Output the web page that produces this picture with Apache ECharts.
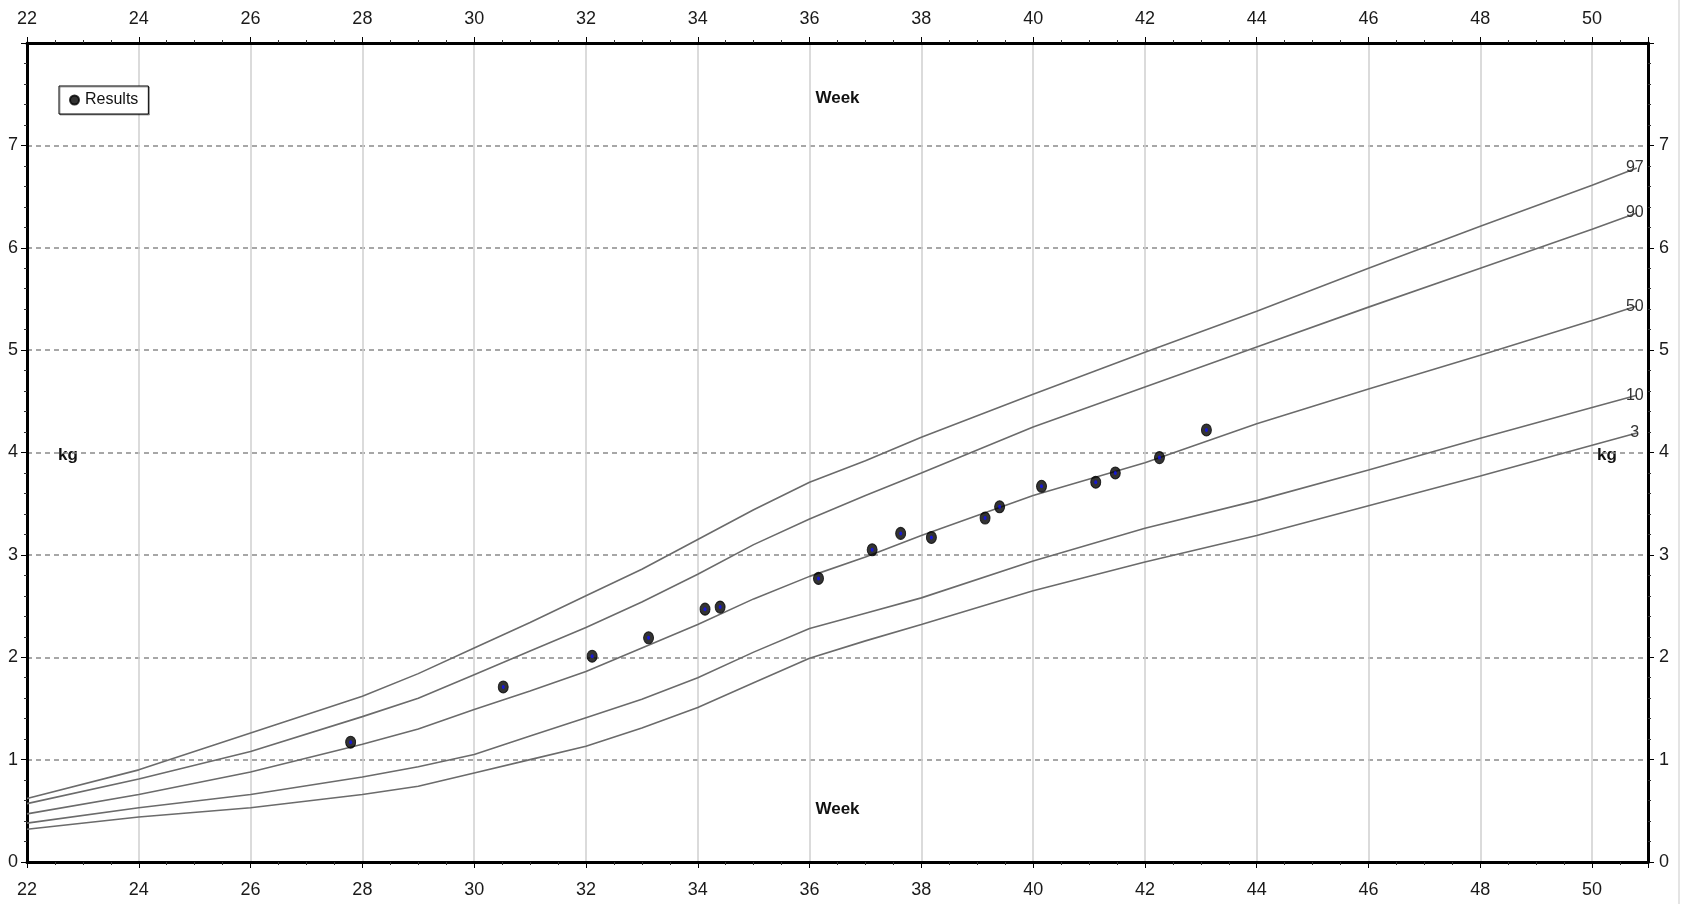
<!DOCTYPE html>
<html>
<head>
<meta charset="utf-8">
<script src="https://cdn.jsdelivr.net/npm/echarts@6/dist/echarts.min.js"></script>
<style>
html,body{margin:0;padding:0;background:#fff;}
#c{width:1687px;height:904px;}
</style>
</head>
<body>
<div id="c"></div>
<script>
// ---- data ----
const curveWeeks = [22, 24, 26, 28, 29, 30, 31, 32, 33, 34, 35, 36, 37, 38, 40, 42, 44, 46, 48, 50, 50.8];
const p97 = [0.62, 0.90, 1.26, 1.62, 1.84, 2.09, 2.34, 2.60, 2.86, 3.15, 3.44, 3.71, 3.92, 4.15, 4.57, 4.98, 5.38, 5.80, 6.21, 6.61, 6.78];
const p90 = [0.57, 0.81, 1.08, 1.42, 1.60, 1.83, 2.06, 2.29, 2.54, 2.81, 3.10, 3.35, 3.58, 3.80, 4.25, 4.64, 5.03, 5.42, 5.80, 6.18, 6.34];
const p50 = [0.47, 0.66, 0.88, 1.15, 1.30, 1.49, 1.67, 1.86, 2.09, 2.32, 2.57, 2.79, 2.98, 3.19, 3.58, 3.90, 4.28, 4.62, 4.95, 5.29, 5.43];
const p10 = [0.38, 0.53, 0.66, 0.83, 0.93, 1.05, 1.23, 1.41, 1.59, 1.80, 2.05, 2.28, 2.43, 2.58, 2.94, 3.26, 3.53, 3.83, 4.14, 4.44, 4.56];
const p3  = [0.32, 0.44, 0.53, 0.66, 0.74, 0.87, 1.00, 1.13, 1.31, 1.51, 1.75, 1.99, 2.16, 2.32, 2.65, 2.93, 3.19, 3.48, 3.77, 4.07, 4.19];
const percentileNames = ['97', '90', '50', '10', '3'];

const resultWeeks = [27.79, 30.52, 32.11, 33.12, 34.13, 34.40, 36.16, 37.12, 37.63, 38.18, 39.14, 39.40, 40.15, 41.12, 41.47, 42.26, 43.10];
const resultKg    = [1.17, 1.71, 2.01, 2.19, 2.47, 2.49, 2.77, 3.05, 3.21, 3.17, 3.36, 3.47, 3.67, 3.71, 3.80, 3.95, 4.22];

const xTickLabels = [22, 24, 26, 28, 30, 32, 34, 36, 38, 40, 42, 44, 46, 48, 50];
const yTickLabels = [0, 1, 2, 3, 4, 5, 6, 7];
const xAxisName = 'Week';
const yAxisName = 'kg';
const legendName = 'Results';

// ---- chart ----
const W = 1687, H = 904;
const G = {left: 27, top: 43, right: 39, bottom: 42};
const FONT = "'Liberation Sans',Arial,sans-serif";

function xAxisDef(pos, split) {
  return {
    type: 'value', position: pos, min: 22, max: 51, interval: 2,
    axisLine: {show: true, onZero: false, lineStyle: {color: '#000', width: 3}},
    axisTick: {show: true, length: 6, lineStyle: {color: '#000', width: 1}},
    minorTick: {show: true, splitNumber: 4, length: 3, lineStyle: {color: '#333', width: 1}},
    axisLabel: {
      show: true, margin: pos === 'top' ? 15 : 19, fontSize: 18, color: '#1a1a1a', fontFamily: FONT,
      showMaxLabel: false,
      formatter: v => (xTickLabels.indexOf(v) >= 0 ? String(v) : '')
    },
    splitLine: {show: split, lineStyle: {color: '#cfcfcf', width: 1.5}},
    minorSplitLine: {show: false}
  };
}
function yAxisDef(pos, split) {
  return {
    type: 'value', position: pos, min: 0, max: 8, interval: 1,
    axisLine: {show: true, onZero: false, lineStyle: {color: '#000', width: 3}},
    axisTick: {show: true, length: 6, lineStyle: {color: '#000', width: 1}},
    minorTick: {show: true, splitNumber: 5, length: 3, lineStyle: {color: '#333', width: 1}},
    axisLabel: {
      show: true, margin: pos === 'left' ? 9 : 11, fontSize: 18, color: '#1a1a1a', fontFamily: FONT,
      showMaxLabel: false,
      formatter: v => (yTickLabels.indexOf(v) >= 0 ? String(v) : '')
    },
    splitLine: {show: split, lineStyle: {color: '#8a8a8a', width: 1.5, type: [5, 4]}},
    minorSplitLine: {show: false}
  };
}

const curves = [p97, p90, p50, p10, p3];
const lineSeries = curves.map((arr, k) => ({
  name: percentileNames[k],
  type: 'line',
  xAxisIndex: 0, yAxisIndex: 0,
  data: curveWeeks.map((w, i) => [w, arr[i]]),
  showSymbol: false, symbol: 'none', smooth: false,
  lineStyle: {color: '#6b6b6b', width: 1.6},
  emphasis: {disabled: true},
  silent: true,
  z: 3,
  endLabel: {
    show: true, formatter: percentileNames[k], color: '#333', fontSize: 16, fontFamily: FONT,
    distance: 0, align: 'center', verticalAlign: 'middle', offset: [-2, 0]
  }
}));

const resultData = resultWeeks.map((w, i) => [w, resultKg[i]]);
const cx = G.left + (W - G.left - G.right) / 2;

const option = {
  backgroundColor: '#fff',
  animation: false,
  grid: {left: G.left, top: G.top, right: G.right, bottom: G.bottom, containLabel: false},
  xAxis: [xAxisDef('bottom', true), xAxisDef('top', false)],
  yAxis: [yAxisDef('left', true), yAxisDef('right', false)],
  legend: {
    data: [legendName], left: 59, top: 86, orient: 'horizontal',
    padding: [6, 10, 6, 10], itemWidth: 9, itemHeight: 12, itemGap: 0,
    borderColor: '#000', borderWidth: 1, borderRadius: 0, backgroundColor: '#fff',
    shadowColor: 'rgba(0,0,0,0.35)', shadowOffsetX: 1, shadowOffsetY: 1, shadowBlur: 0,
    textStyle: {fontSize: 16, fontFamily: FONT, color: '#111', padding: [0, 0, 0, 1]},
    selectedMode: false
  },
  series: lineSeries.concat([{
    name: legendName,
    type: 'scatter',
    xAxisIndex: 0, yAxisIndex: 0,
    data: resultData,
    symbol: 'circle', symbolSize: [10, 12],
    itemStyle: {color: '#000', borderColor: '#000', borderWidth: 1},
    z: 10
  }, {
    name: legendName + ' centre',
    type: 'scatter',
    xAxisIndex: 0, yAxisIndex: 0,
    data: resultData,
    symbol: 'circle', symbolSize: [3, 4],
    itemStyle: {color: '#1010ff'},
    silent: true,
    z: 11
  }]),
  graphic: [
    {type: 'text', x: cx, y: 98, style: {text: xAxisName, fill: '#111', font: 'bold 17px ' + FONT, align: 'center', verticalAlign: 'middle'}},
    {type: 'text', x: cx, y: 809, style: {text: xAxisName, fill: '#111', font: 'bold 17px ' + FONT, align: 'center', verticalAlign: 'middle'}},
    {type: 'text', x: 68, y: 455, style: {text: yAxisName, fill: '#111', font: 'bold 17px ' + FONT, align: 'center', verticalAlign: 'middle'}},
    {type: 'text', x: 1607, y: 455, style: {text: yAxisName, fill: '#111', font: 'bold 17px ' + FONT, align: 'center', verticalAlign: 'middle'}},
    {type: 'rect', shape: {x: 1678, y: 0, width: 2, height: H}, style: {fill: '#e4e4e4'}, silent: true}
  ]
};

const chart = echarts.init(document.getElementById('c'), null, {renderer: 'canvas', width: W, height: H});
chart.setOption(option);
</script>
</body>
</html>
